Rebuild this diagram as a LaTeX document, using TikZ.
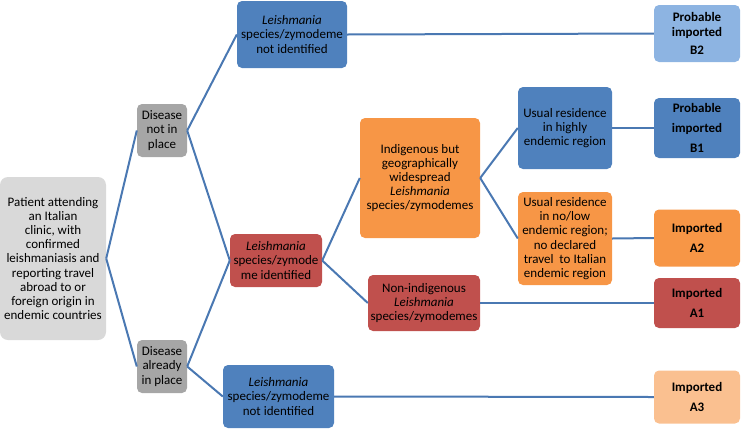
\documentclass[tikz,border=0pt]{standalone}
\usepackage{fontspec}
\setmainfont{Carlito}
\definecolor{lgray}{RGB}{217,217,217}
\definecolor{dgray}{RGB}{166,166,166}
\definecolor{mblue}{RGB}{79,129,189}
\definecolor{pblue}{RGB}{141,180,226}
\definecolor{mred}{RGB}{192,80,77}
\definecolor{morange}{RGB}{247,150,70}
\definecolor{porange}{RGB}{250,192,144}
\definecolor{edgeblue}{RGB}{74,120,178}
\tikzset{
  box/.style={rectangle,rounded corners=5pt,align=center,inner sep=1pt,
    font=\fontsize{13}{14.2}\selectfont},
  outbox/.style={box,minimum width=86pt,font=\fontsize{13}{20}\selectfont\bfseries},
  link/.style={draw=edgeblue,line width=2pt}
}
\begin{document}
\begin{tikzpicture}[x=1pt,y=-1pt]
\useasboundingbox (0,0) rectangle (741,429);
            % Vertices
\node[box,rounded corners=8pt,fill=lgray,minimum width=106pt,minimum height=163pt] (pat) at (53,258.5)
  {Patient attending\\an Italian\\clinic, with\\confirmed\\leishmaniasis and\\reporting travel\\abroad to or\\foreign origin in\\endemic countries};
\node[box,fill=dgray,minimum width=50pt,minimum height=53pt] (dnot) at (162,130.5) {Disease\\not in\\place};
\node[box,fill=dgray,minimum width=50pt,minimum height=53pt] (dal) at (162,366.5) {Disease\\already\\in place};
\node[box,fill=mblue,minimum width=110pt,minimum height=67pt] (nidtop) at (292,34.5)
  {\textit{Leishmania}\\species/zymodeme\\not identified};
\node[box,fill=mred,minimum width=92pt,minimum height=53pt] (idf) at (276,260.5)
  {\textit{Leishmania}\\species/zymode\\me identified};
\node[box,fill=mblue,minimum width=111pt,minimum height=63pt] (nidbot) at (278.5,396.5)
  {\textit{Leishmania}\\species/zymodeme\\not identified};
\node[box,fill=morange,minimum width=120pt,minimum height=120pt] (indig) at (420,178)
  {Indigenous but\\geographically\\widespread\\\textit{Leishmania}\\species/zymodemes};
\node[box,fill=mred,minimum width=112pt,minimum height=56pt] (nonind) at (424,303)
  {Non-indigenous\\\textit{Leishmania}\\species/zymodemes};
\node[box,fill=mblue,minimum width=94pt,minimum height=82pt] (high) at (565,128)
  {Usual residence\\in highly\\endemic region};
\node[box,fill=morange,minimum width=94pt,minimum height=93pt] (low) at (565,238.5)
  {Usual residence\\in no/low\\endemic region;\\no declared\\travel\ \ to Italian\\endemic region};
%Outcomes
\node[outbox,fill=pblue,minimum height=57pt,font=\fontsize{13}{15}\selectfont\bfseries] (b2) at (697,33.5) {Probable\\imported\\[3pt]B2};
\node[outbox,fill=mblue,minimum height=60pt] (b1) at (697,128) {Probable\\imported\\B1};
\node[outbox,fill=morange,minimum height=57pt] (a2) at (697,238) {Imported\\A2};
\node[outbox,fill=mred,minimum height=50pt] (a1) at (697,303) {Imported\\A1};
\node[outbox,fill=porange,minimum height=53pt] (a3) at (697,397) {Imported\\A3};
%Edges
\draw[link] (pat.east) -- (dnot.west);
\draw[link] (pat.east) -- (dal.west);
\draw[link] (dnot.east) -- (nidtop.west);
\draw[link] (dnot.east) -- (idf.west);
\draw[link] (dal.east) -- (idf.west);
\draw[link] (dal.east) -- (nidbot.west);
\draw[link] (idf.east) -- (indig.west);
\draw[link] (idf.east) -- (nonind.west);
\draw[link] (indig.east) -- (high.west);
\draw[link] (indig.east) -- (low.west);
%Edges to outcomes
\draw[link] (nidtop.east) -- (b2.west);
\draw[link] (high.east) -- (b1.west);
\draw[link] (low.east) -- (a2.west);
\draw[link] (nonind.east) -- (a1.west);
\draw[link] (nidbot.east) -- (a3.west);
          \end{tikzpicture}
\end{document}
